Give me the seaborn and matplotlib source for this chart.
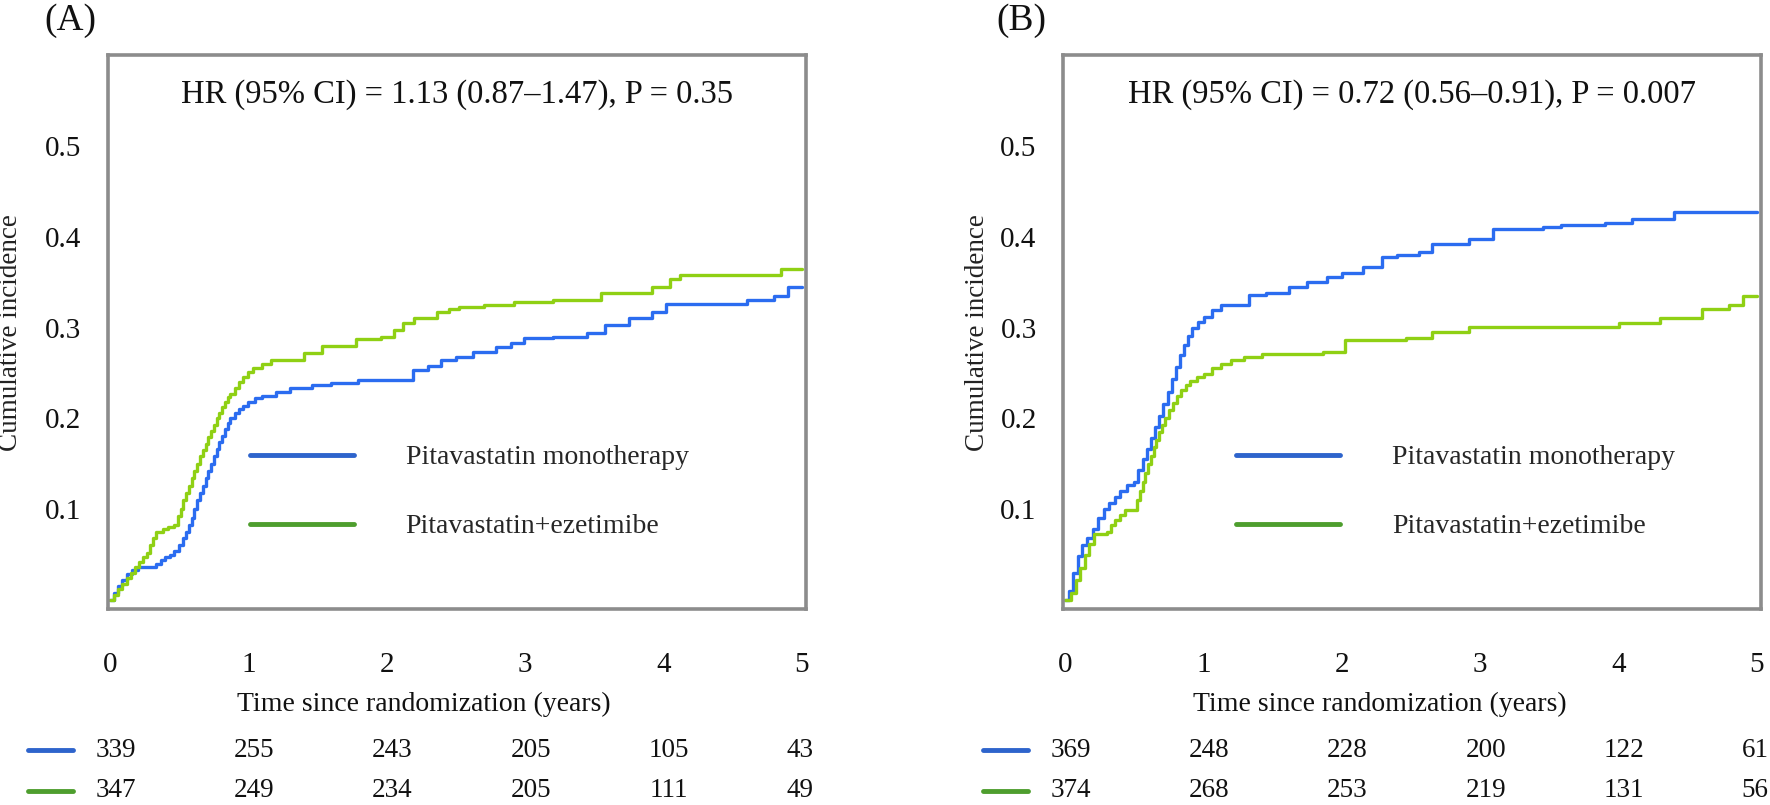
import matplotlib.pyplot as plt
import matplotlib.transforms as mtransforms
from matplotlib.lines import Line2D
import seaborn as sns
import pandas as pd

# Cumulative incidence curves
groups = ['Pitavastatin monotherapy', 'Pitavastatin+ezetimibe']

a_mono_t = [0, 0.03, 0.06, 0.09, 0.12, 0.16, 0.2, 0.3, 0.33, 0.37, 0.4, 0.43, 0.46, 0.5, 0.53, 0.55,
            0.57, 0.59, 0.61, 0.63, 0.65, 0.67, 0.69, 0.71, 0.73, 0.75, 0.77, 0.79, 0.81, 0.83, 0.85,
            0.87, 0.9, 0.93, 0.96, 1.0, 1.05, 1.1, 1.2, 1.3, 1.46, 1.6, 1.79, 2.06, 2.19, 2.3, 2.39,
            2.5, 2.62, 2.79, 2.9, 2.99, 3.2, 3.45, 3.58, 3.75, 3.92, 4.02, 4.6, 4.8, 4.9, 5.0]
a_mono_v = [0, 0.008, 0.015, 0.022, 0.028, 0.033, 0.036, 0.036, 0.04, 0.044, 0.047, 0.05, 0.054, 0.06,
            0.068, 0.075, 0.083, 0.09, 0.1, 0.11, 0.118, 0.126, 0.134, 0.142, 0.15, 0.158, 0.166,
            0.174, 0.181, 0.188, 0.195, 0.2, 0.206, 0.21, 0.214, 0.218, 0.222, 0.225, 0.229, 0.233,
            0.237, 0.239, 0.242, 0.242, 0.253, 0.258, 0.264, 0.268, 0.273, 0.279, 0.283, 0.288, 0.29,
            0.294, 0.303, 0.31, 0.317, 0.326, 0.33, 0.335, 0.345, 0.345]

a_ezet_t = [0, 0.03, 0.06, 0.09, 0.12, 0.15, 0.18, 0.21, 0.24, 0.27, 0.29, 0.31, 0.33, 0.38, 0.42,
            0.46, 0.49, 0.51, 0.53, 0.55, 0.57, 0.59, 0.61, 0.63, 0.65, 0.67, 0.69, 0.71, 0.73, 0.75,
            0.77, 0.79, 0.81, 0.83, 0.85, 0.87, 0.9, 0.93, 0.96, 1.0, 1.03, 1.1, 1.16, 1.33, 1.4, 1.53,
            1.78, 1.96, 2.05, 2.12, 2.2, 2.36, 2.45, 2.52, 2.7, 2.92, 3.2, 3.55, 3.92, 4.05, 4.12,
            4.8, 4.85, 5.0]
a_ezet_v = [0, 0.005, 0.012, 0.018, 0.024, 0.03, 0.036, 0.042, 0.047, 0.052, 0.06, 0.068, 0.075,
            0.078, 0.08, 0.083, 0.092, 0.1, 0.11, 0.118, 0.126, 0.134, 0.142, 0.15, 0.158, 0.165,
            0.172, 0.179, 0.186, 0.193, 0.2, 0.206, 0.212, 0.218, 0.223, 0.227, 0.233, 0.24, 0.246,
            0.251, 0.255, 0.26, 0.264, 0.264, 0.272, 0.28, 0.287, 0.29, 0.297, 0.305, 0.31, 0.317,
            0.32, 0.323, 0.325, 0.328, 0.33, 0.338, 0.345, 0.353, 0.358, 0.358, 0.365, 0.365]

b_mono_t = [0, 0.03, 0.06, 0.09, 0.12, 0.16, 0.2, 0.24, 0.28, 0.32, 0.36, 0.4, 0.45, 0.5, 0.53, 0.56,
            0.59, 0.62, 0.65, 0.68, 0.71, 0.74, 0.77, 0.8, 0.83, 0.86, 0.89, 0.92, 0.96, 1.0, 1.06,
            1.13, 1.26, 1.33, 1.45, 1.62, 1.75, 1.89, 2.0, 2.15, 2.29, 2.4, 2.56, 2.65, 2.92, 3.09,
            3.45, 3.58, 3.9, 4.1, 4.4, 5.0]
b_mono_v = [0, 0.01, 0.03, 0.048, 0.06, 0.068, 0.078, 0.09, 0.1, 0.107, 0.113, 0.12, 0.127, 0.13,
            0.143, 0.155, 0.166, 0.178, 0.19, 0.203, 0.216, 0.229, 0.243, 0.257, 0.27, 0.281, 0.291,
            0.299, 0.306, 0.312, 0.319, 0.325, 0.325, 0.336, 0.338, 0.345, 0.35, 0.356, 0.36, 0.367,
            0.378, 0.38, 0.383, 0.392, 0.397, 0.408, 0.411, 0.413, 0.415, 0.42, 0.427, 0.427]

b_ezet_t = [0, 0.04, 0.08, 0.11, 0.14, 0.17, 0.21, 0.3, 0.33, 0.36, 0.4, 0.43, 0.5, 0.52, 0.54, 0.56,
            0.58, 0.6, 0.62, 0.64, 0.66, 0.68, 0.7, 0.72, 0.75, 0.78, 0.81, 0.84, 0.87, 0.9, 0.95, 1.0,
            1.06, 1.13, 1.2, 1.29, 1.42, 1.86, 2.02, 2.46, 2.65, 2.92, 3.9, 4.0, 4.3, 4.6, 4.8, 4.9, 5.0]
b_ezet_v = [0, 0.008, 0.022, 0.035, 0.05, 0.062, 0.073, 0.075, 0.082, 0.088, 0.094, 0.099, 0.099,
            0.11, 0.12, 0.13, 0.14, 0.15, 0.159, 0.168, 0.176, 0.185, 0.193, 0.2, 0.209, 0.217, 0.225,
            0.231, 0.237, 0.241, 0.245, 0.249, 0.255, 0.26, 0.264, 0.268, 0.271, 0.273, 0.286, 0.288,
            0.295, 0.301, 0.301, 0.305, 0.31, 0.32, 0.325, 0.335, 0.335]

# Number at risk at years 0..5
risk_years = [0, 1, 2, 3, 4, 5]
a_risk_mono = [339, 255, 243, 205, 105, 43]
a_risk_ezet = [347, 249, 234, 205, 111, 49]
b_risk_mono = [369, 248, 228, 200, 122, 61]
b_risk_ezet = [374, 268, 253, 219, 131, 56]

hr_a = 'HR (95% CI) = 1.13 (0.87\u20131.47), P = 0.35'
hr_b = 'HR (95% CI) = 0.72 (0.56\u20130.91), P = 0.007'

curve_colors = {'Pitavastatin monotherapy': '#2b6cf0', 'Pitavastatin+ezetimibe': '#8fd014'}
key_colors = ['#2e64cc', '#4e9e2e']
spine_gray = '#8c8c8c'


def make_df(mono_t, mono_v, ezet_t, ezet_v):
    return pd.DataFrame({
        'time': mono_t + ezet_t,
        'cuminc': mono_v + ezet_v,
        'group': [groups[0]] * len(mono_t) + [groups[1]] * len(ezet_t),
    })


df_a = make_df(a_mono_t, a_mono_v, a_ezet_t, a_ezet_v)
df_b = make_df(b_mono_t, b_mono_v, b_ezet_t, b_ezet_v)

sns.set_theme(style='white')
plt.rcParams['font.family'] = ['Liberation Serif', 'DejaVu Serif']

fig = plt.figure(figsize=(17.7, 8.05), dpi=100)
ax_a = fig.add_axes([0.061, 0.2435, 0.3944, 0.688])
ax_b = fig.add_axes([0.6006, 0.2435, 0.3944, 0.688])

panels = [
    (ax_a, df_a, hr_a, a_risk_mono, a_risk_ezet, '(A)', 0.025, -0.139, 0.2395, 0.203),
    (ax_b, df_b, hr_b, b_risk_mono, b_risk_ezet, '(B)', 0.563, -0.122, 0.7797, 0.248),
]

for ax, df, hr, risk_m, risk_e, tag, tag_x, ylab_x, xlab_x, leg_x in panels:
    sns.lineplot(data=df, x='time', y='cuminc', hue='group', palette=curve_colors,
                 drawstyle='steps-post', estimator=None, linewidth=2.4, legend=False, ax=ax)
    ax.set_xlim(-0.015, 5.03)
    ax.set_ylim(-0.01, 0.60)
    ax.set_xticks(risk_years)
    ax.set_yticks([0.1, 0.2, 0.3, 0.4, 0.5])
    ax.set_yticklabels(['0.1', '0.2', '0.3', '0.4', '0.5'])
    ax.set_xlabel('')
    ax.set_ylabel('')
    for s in ax.spines.values():
        s.set_color(spine_gray)
        s.set_linewidth(2.6)
    ax.tick_params(axis='x', length=16, width=1.8, color=spine_gray, pad=15, labelsize=21, labelcolor='#111111')
    ax.tick_params(axis='y', length=11, width=1.8, color=spine_gray, pad=8, labelsize=21, labelcolor='#111111')
    ax.xaxis.get_major_ticks()[0].tick1line.set_visible(False)

    ax.text(0.5, 0.928, hr, transform=ax.transAxes, ha='center', va='center', fontsize=23.5, color='#111111')
    ax.text(ylab_x, 0.5, 'Cumulative incidence', transform=ax.transAxes, rotation=90,
            ha='center', va='center', fontsize=19.5, color='#222222')
    fig.text(xlab_x, 0.1255, 'Time since randomization (years)', ha='center', va='center',
             fontsize=20, color='#111111')
    fig.text(tag_x, 0.974, tag, ha='left', va='center', fontsize=27, color='#111111')

    handles = [Line2D([0], [0], color=c, linewidth=3.5) for c in key_colors]
    ax.legend(handles, groups, loc='upper left', bbox_to_anchor=(leg_x, 0.296), frameon=False,
              fontsize=20, handlelength=3.74, handletextpad=1.87, labelspacing=1.56,
              borderpad=0, borderaxespad=0)

    # number-at-risk table below the axis
    trans = mtransforms.blended_transform_factory(ax.transData, fig.transFigure)
    for row_y, counts, c in [(0.0683, risk_m, key_colors[0]), (0.0175, risk_e, key_colors[1])]:
        ax.plot([-0.59, -0.27], [row_y, row_y], color=c, linewidth=3.5, transform=trans, clip_on=False)
        for yr, n in zip(risk_years, counts):
            xpos = yr + 0.04 if yr < 5 else 4.985
            ax.text(xpos, row_y, str(n), transform=trans, ha='center', va='center',
                    fontsize=19.5, color='#111111')

fig.savefig('out.png', dpi=100)
